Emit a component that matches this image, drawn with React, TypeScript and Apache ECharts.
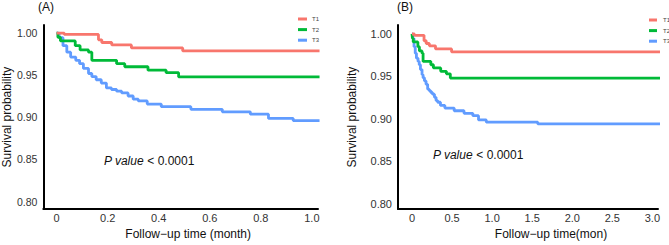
import React, { useEffect, useRef } from "react";
import * as echarts from "echarts";

// Kaplan-Meier steps: [time, survival]
const panelA_T1: number[][] = [[0, 1], [0.03, 0.9984], [0.164, 0.992], [0.177, 0.9888], [0.216, 0.986], [0.293, 0.9824], [0.494, 0.9788], [1.03, 0.9788]];
const panelA_T2: number[][] = [[0, 1], [0.005, 0.995], [0.015, 0.9907], [0.073, 0.985], [0.092, 0.98], [0.125, 0.9773], [0.138, 0.9677], [0.235, 0.9637], [0.267, 0.96], [0.358, 0.956], [0.429, 0.953], [0.478, 0.948], [1.03, 0.948]];
const panelA_T3: number[][] = [[0, 1], [0.01, 0.9946], [0.025, 0.985], [0.04, 0.9773], [0.055, 0.9715], [0.075, 0.9677], [0.09, 0.9637], [0.105, 0.958], [0.125, 0.952], [0.138, 0.9484], [0.155, 0.9446], [0.175, 0.9406], [0.195, 0.9349], [0.215, 0.933], [0.235, 0.931], [0.255, 0.929], [0.28, 0.9253], [0.3, 0.9215], [0.32, 0.9195], [0.355, 0.9157], [0.41, 0.9126], [0.526, 0.9095], [0.649, 0.9065], [0.759, 0.9037], [0.83, 0.8987], [0.927, 0.896], [1.03, 0.896]];

const panelB_T1: number[][] = [[0, 1], [0.03, 0.9984], [0.15, 0.992], [0.177, 0.9888], [0.216, 0.986], [0.293, 0.9824], [0.494, 0.9788], [3.1, 0.9788]];
const panelB_T2: number[][] = [[0, 1], [0.005, 0.995], [0.015, 0.9907], [0.073, 0.985], [0.092, 0.98], [0.125, 0.9773], [0.138, 0.9677], [0.235, 0.9637], [0.267, 0.96], [0.358, 0.956], [0.429, 0.953], [0.478, 0.948], [3.1, 0.948]];
const panelB_T3: number[][] = [[0, 1], [0.01, 0.9946], [0.025, 0.985], [0.04, 0.9773], [0.055, 0.9715], [0.075, 0.9677], [0.09, 0.9637], [0.105, 0.958], [0.125, 0.952], [0.138, 0.9484], [0.155, 0.9446], [0.175, 0.9406], [0.195, 0.9349], [0.215, 0.933], [0.235, 0.931], [0.255, 0.929], [0.28, 0.9253], [0.3, 0.9215], [0.32, 0.9195], [0.355, 0.9157], [0.41, 0.9126], [0.526, 0.9095], [0.649, 0.9065], [0.759, 0.9037], [0.83, 0.8987], [0.927, 0.896], [1.57, 0.894], [3.1, 0.894]];

const groupNames = ["T1", "T2", "T3"];
const groupColors = ["#F8766D", "#00BA38", "#619CFF"];
const xTicksA = [0, 0.2, 0.4, 0.6, 0.8, 1.0];
const xTicksB = [0, 0.5, 1.0, 1.5, 2.0, 2.5, 3.0];
const yTicks = [0.8, 0.85, 0.9, 0.95, 1.0];

const FONT = "Liberation Sans, Arial, Helvetica, sans-serif";

export default function App() {
  const ref = useRef<HTMLDivElement>(null);
  useEffect(() => {
    if (!ref.current) return;
    const chart = echarts.init(ref.current, undefined, { renderer: "svg" });
    const mkX = (idx: number, min: number, max: number, ticks: number[], name: string, pad: number) => ({
      type: "value",
      gridIndex: idx,
      min,
      max,
      name,
      nameLocation: "middle",
      nameGap: 17,
      nameTextStyle: { fontSize: 12, color: "#111", fontFamily: FONT, padding: [0, 0, 0, pad] },
      splitLine: { show: false },
      axisTick: { show: false },
      axisLine: { onZero: false, lineStyle: { color: "#000", width: 2 } },
      axisLabel: {
        customValues: ticks,
        margin: 3,
        fontSize: 11,
        color: "#333",
        fontFamily: FONT,
        formatter: (v: number) => (v === 0 ? "0" : v.toFixed(1)),
      },
    });
    const mkY = (idx: number, min: number, max: number, gap: number, fs: number) => ({
      type: "value",
      gridIndex: idx,
      min,
      max,
      name: "Survival probability",
      nameLocation: "middle",
      nameGap: gap,
      nameTextStyle: { fontSize: 12, color: "#111", fontFamily: FONT },
      splitLine: { show: false },
      axisTick: { show: false },
      axisLine: { onZero: false, lineStyle: { color: "#000", width: 2 } },
      axisLabel: {
        customValues: yTicks,
        margin: 6,
        fontSize: fs,
        color: "#333",
        fontFamily: FONT,
        formatter: (v: number) => v.toFixed(2),
      },
    });
    const dataA = [panelA_T1, panelA_T2, panelA_T3];
    const dataB = [panelB_T1, panelB_T2, panelB_T3];
    const series: any[] = [];
    [dataA, dataB].forEach((set, gi) => {
      set.forEach((d, i) => {
        series.push({
          type: "line",
          name: groupNames[i],
          xAxisIndex: gi,
          yAxisIndex: gi,
          step: "end",
          data: d,
          symbol: "none",
          showSymbol: false,
          color: groupColors[i],
          lineStyle: { width: 2.8, color: groupColors[i] },
          z: 3 - i,
        });
      });
    });
    const mkLegend = (left: number, top: number, w: number, padLeft: number) => ({
      left,
      top,
      orient: "vertical",
      data: groupNames,
      icon: "rect",
      itemWidth: w,
      itemHeight: 3,
      itemGap: 3.6,
      selectedMode: false,
      textStyle: { fontSize: 6, lineHeight: 7, color: "#444", fontFamily: FONT, padding: [0, 0, 0, padLeft] },
    });
    chart.setOption({
      animation: false,
      backgroundColor: "#fff",
      grid: [
        { left: 41, top: 25, width: 277, height: 189 },
        { left: 398, top: 25, width: 260, height: 190 },
      ],
      xAxis: [
        mkX(0, -0.052, 1.024, xTicksA, "Follow\u2212up time (month)", 15),
        mkX(1, -0.175, 3.07, xTicksB, "Follow\u2212up time(mon)", 46),
      ],
      yAxis: [mkY(0, 0.791, 1.0096, 27, 10.5), mkY(1, 0.7935, 1.0106, 40, 11)],
      legend: [mkLegend(293, 10.5, 9, 0), mkLegend(644, 11.5, 8, 1)],
      series,
      graphic: [
        { type: "text", left: 38, top: 1, style: { text: "(A)", fontSize: 12, fill: "#111", fontFamily: FONT } },
        { type: "text", left: 397, top: 1, style: { text: "(B)", fontSize: 12, fill: "#111", fontFamily: FONT } },
        {
          type: "text",
          x: 104,
          y: 161,
          style: {
            text: "{i|P value} < 0.0001",
            fontSize: 12,
            fill: "#111",
            fontFamily: FONT,
            verticalAlign: "middle",
            rich: { i: { fontStyle: "italic", fontSize: 12, fontFamily: FONT, fill: "#111" } },
          },
        },
        {
          type: "text",
          x: 433,
          y: 155,
          style: {
            text: "{i|P value} < 0.0001",
            fontSize: 12,
            fill: "#111",
            fontFamily: FONT,
            verticalAlign: "middle",
            rich: { i: { fontStyle: "italic", fontSize: 12, fontFamily: FONT, fill: "#111" } },
          },
        },
      ],
    });
    return () => chart.dispose();
  }, []);
  return <div ref={ref} style={{ position: "absolute", left: 0, top: 0, width: 669, height: 245 }} />;
}
